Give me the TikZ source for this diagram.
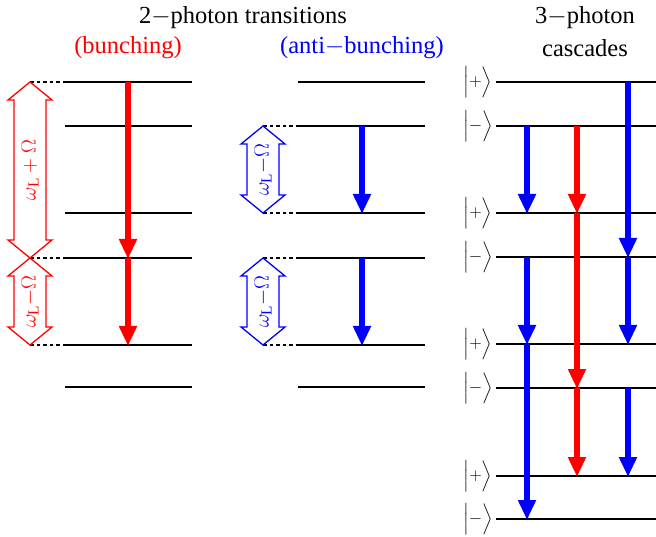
\documentclass[tikz,border=0pt]{standalone}
\usepackage{exscale}
\usepackage{fontspec}
\setmainfont{Liberation Serif}
\usetikzlibrary{arrows.meta}
\tikzset{
  lvl/.style={line width=1.6pt, black},
  ext/.style={line width=1.6pt, black, dash pattern=on 3.5pt off 3pt},
  trans/.style={line width=6pt, -{Triangle[length=20pt,width=17pt]}, shorten >=-1pt},
  ttl/.style={font=\fontsize{24.5}{28}\selectfont, inner sep=0pt},
  ket/.style={font=\fontsize{18}{20}\selectfont, inner sep=0pt},
  dlab/.style={font=\fontsize{22}{24}\selectfont, inner sep=0pt, rotate=90},
}
\newcommand\dblarr[6]{%
  \draw[#4, line width=1.3pt, line join=miter]
    (#1,#2) -- ({#1+22},{#2+18}) -- ({#1+16},{#2+18}) -- ({#1+16},{#3-18})
    -- ({#1+22},{#3-18}) -- (#1,#3) -- ({#1-22},{#3-18}) -- ({#1-16},{#3-18})
    -- ({#1-16},{#2+18}) -- ({#1-22},{#2+18}) -- cycle;
  \node[dlab, text=#4] (#6) at (#1,{(#2+#3)/2}) {#5};}
\begin{document}
\begin{tikzpicture}[x=1pt,y=-1pt]
\useasboundingbox (0,0) rectangle (656,537);
% titles
\node[ttl] (t2) at (243,18) {2$-$photon transitions};
\node[ttl, text=red] (tb) at (128,48) {(bunching)};
\node[ttl, text=blue] (ta) at (362,48) {(anti$-$bunching)};
\node[ttl] (t3) at (585,18) {3$-$photon};
\node[ttl] (t3b) at (585,48) {cascades};
% left column levels
\foreach \y in {82,126,213,258,345,387} \draw[lvl] (65,\y) -- (192,\y);
\foreach \y in {82,258,345} \draw[ext] (30,\y) -- (65,\y);
% middle column levels
\foreach \y in {82,126,213,258,345,387} \draw[lvl] (298,\y) -- (425,\y);
\foreach \y in {126,213,258,345} \draw[ext] (263,\y) -- (298,\y);
% right column levels and kets
\foreach \y/\s [count=\i] in {82/+,126/-,213/+,257/-,344/+,388/-,476/+,519/-}{
  \draw[lvl] (496,\y) -- (656,\y);
  \node[ket] (k\i) at (478,\y) {$\Bigl|\s\Bigr\rangle$};
}
% double arrows
\dblarr{30}{82}{258}{red}{$\omega_{\mathrm{L}}+\Omega$}{da1}
\dblarr{30}{258}{345}{red}{$\omega_{\mathrm{L}}{\mathbf{-}}\Omega$}{da2}
\dblarr{263}{126}{213}{blue}{$\omega_{\mathrm{L}}{\mathbf{-}}\Omega$}{da3}
\dblarr{263}{258}{345}{blue}{$\omega_{\mathrm{L}}{\mathbf{-}}\Omega$}{da4}
% transition endpoints
\coordinate (b1) at (128,82); \coordinate (b2) at (128,258); \coordinate (b3) at (128,345);
\coordinate (a1) at (362,126); \coordinate (a2) at (362,213);
\coordinate (a3) at (362,258); \coordinate (a4) at (362,345);
\coordinate (p1) at (527,126); \coordinate (p2) at (527,213);
\coordinate (p3) at (527,257); \coordinate (p4) at (527,344); \coordinate (p5) at (527,519);
\coordinate (q1) at (577,126); \coordinate (q2) at (577,213);
\coordinate (q3) at (577,388); \coordinate (q4) at (577,476);
\coordinate (s1) at (628,82); \coordinate (s2) at (628,257);
\coordinate (s3) at (628,344); \coordinate (s4) at (628,388); \coordinate (s5) at (628,476);
% arrows
\draw[trans, red] (b1) -- (b2);
\draw[trans, red] (b2) -- (b3);
\draw[trans, blue] (a1) -- (a2);
\draw[trans, blue] (a3) -- (a4);
\draw[trans, blue] (p1) -- (p2);
\draw[trans, blue] (p3) -- (p4);
\draw[trans, blue] (p4) -- (p5);
\draw[trans, red] (q1) -- (q2);
\draw[trans, red] (q2) -- (q3);
\draw[trans, red] (q3) -- (q4);
\draw[trans, blue] (s1) -- (s2);
\draw[trans, blue] (s2) -- (s3);
\draw[trans, blue] (s4) -- (s5);
\end{tikzpicture}
\end{document}
